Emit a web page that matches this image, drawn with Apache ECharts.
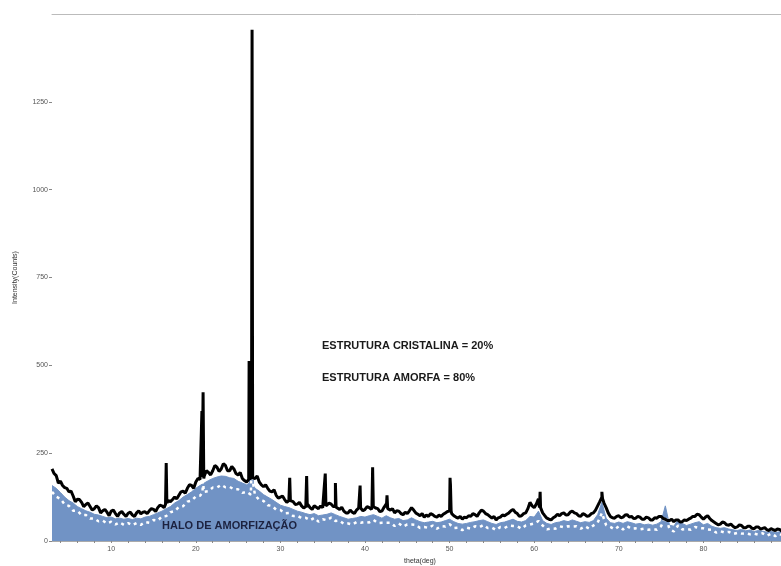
<!DOCTYPE html>
<html>
<head>
<meta charset="utf-8">
<script src="https://cdn.jsdelivr.net/npm/echarts@6/dist/echarts.min.js"></script>
<style>
html,body{margin:0;padding:0;background:#fff;}
#chart{width:781px;height:566px;}
</style>
</head>
<body>
<div id="chart"></div>
<script>
// 2theta sampling of the profiles (degrees)
const thetaStart = 3;
const blackStep = 0.25;
const lowerStep = 0.5;

// Measured pattern (black), counts, 3.00 .. 90.00 every 0.25 deg
const blackBase = [
  205,192,186,165,170,158,152,150,140,142,128,112,119,118,110,98,104,108,98,88,
  92,100,95,80,86,90,82,72,85,88,78,70,80,84,76,70,79,82,74,70,
  80,86,77,82,83,78,86,92,90,84,95,102,100,95,106,115,112,118,125,120,
  130,140,142,136,150,160,158,150,168,178,175,182,185,200,195,188,200,215,210,198,
  205,220,215,200,200,212,205,192,188,195,178,172,168,175,180,185,178,185,168,160,
  155,160,150,142,140,146,130,122,125,128,118,110,115,120,112,104,105,110,100,94,
  98,104,95,90,100,96,92,100,95,98,100,108,105,98,98,92,90,96,85,80,
  80,88,82,78,88,94,95,86,90,98,95,90,100,94,92,84,85,96,105,94,
  88,92,80,86,85,78,75,82,78,86,95,88,80,76,72,78,68,74,70,78,
  75,70,68,74,70,76,80,84,85,78,72,68,65,70,62,68,66,72,70,78,
  75,70,80,88,85,78,75,70,65,70,60,66,68,74,72,76,80,86,90,82,
  78,70,72,78,80,92,110,100,95,105,120,95,80,72,65,62,60,66,70,76,
  72,78,80,74,75,82,85,80,78,72,70,78,75,70,72,78,80,88,100,112,
  125,108,95,80,70,66,65,70,72,66,68,74,75,68,70,64,65,70,68,62,
  62,68,66,60,60,66,65,70,70,64,62,58,58,62,55,60,60,54,55,60,
  58,62,65,70,70,76,75,68,62,68,72,64,58,54,50,46,48,54,52,46,
  45,48,42,38,40,46,44,38,38,42,42,36,35,40,40,34,36,38,32,30,
  35,32,30,34,33,28,30,27,28
];
// Sharp crystalline reflections of the black pattern [2theta, counts]
const blackPeaks = [
  [16.42,105],[16.5,222],[16.58,108],
  [20.65,170],[20.72,370],[20.8,180],[20.86,423],[20.94,178],
  [26.22,172],[26.3,512],[26.38,176],
  [26.58,182],[26.65,1455],[26.72,180],
  [31.02,118],[31.1,180],[31.18,115],
  [33.02,98],[33.1,185],[33.18,96],
  [35.22,98],[35.3,192],[35.38,100],
  [36.42,100],[36.5,165],[36.58,96],
  [39.35,92],[39.42,158],[39.48,94],
  [40.82,96],[40.9,210],[40.98,98],
  [42.52,95],[42.6,130],[42.68,92],
  [49.95,82],[50.05,180],[50.1,160],[50.18,85],
  [60.62,95],[60.7,140],[60.78,90],
  [67.92,110],[68.0,140],[68.08,120]
];

// Amorphous halo (blue area), counts, 3.0 .. 90.0 every 0.5 deg
const blueBase = [
  158,150,138,125,115,108,98,92,86,82,
  76,74,70,66,68,63,65,62,64,61,
  65,63,68,70,75,80,85,92,98,108,
  115,125,132,140,150,158,165,172,178,182,
  185,184,180,178,170,165,160,158,150,142,
  132,125,118,110,102,98,95,90,85,82,
  78,75,78,72,74,76,80,75,70,66,
  62,64,66,70,68,72,75,70,65,72,
  66,62,64,58,60,66,60,55,52,54,
  56,52,54,58,62,55,50,48,50,53,
  55,58,60,55,50,47,52,54,58,62,
  56,54,58,70,68,85,58,50,47,52,
  54,58,55,60,56,52,55,53,58,75,
  110,65,52,50,54,50,55,52,48,50,
  46,48,45,48,55,100,45,42,60,50,
  44,48,52,55,46,50,42,38,36,38,
  34,32,30,33,29,31,27,30,28,25,
  27,24,26,23,22
];
const bluePeaks = [
  [26.35,165],[26.45,330],[26.72,330],[26.8,160]
];

// Lower noisy trace (white), counts, 3.0 .. 90.0 every 0.5 deg
const whiteBase = [
  140,126,120,104,100,86,86,74,74,64,
  64,56,58,50,55,47,53,46,51,45,
  51,46,54,52,60,58,70,71,82,85,
  97,99,112,115,127,129,142,142,152,152,
  160,153,154,147,147,137,140,132,130,117,
  114,102,100,89,88,79,80,71,72,65,
  66,59,66,55,62,59,67,57,58,49,
  50,47,54,52,54,53,60,51,52,52,
  52,43,50,41,47,47,46,37,40,37,
  44,35,42,41,48,37,38,31,38,35,
  42,39,46,37,38,31,40,37,44,43,
  42,35,44,47,50,57,44,33,36,35,
  42,39,42,41,42,35,42,35,44,52,
  80,45,40,33,42,33,42,35,36,33,
  35,32,34,32,42,70,34,27,44,33,
  34,32,40,37,36,33,32,24,28,24,
  26,20,23,21,22,19,21,18,22,15,
  21,14,20,14,17
];
const whitePeaks = [
  [20.8,138],[20.86,230],[20.92,140],
  [26.55,170],[26.62,330],[26.66,1060],[26.72,330],[26.8,160]
];

// Axis ticks / labels
const xTickValues = [4,6,8,10,12,14,16,18,20,22,24,26,28,30,32,34,36,38,40,42,44,46,48,50,52,54,56,58,60,62,64,66,68,70,72,74,76,78,80,82,84,86,88];
const xLabelValues = [10,20,30,40,50,60,70,80];
const yLabelValues = [0,250,500,750,1000,1250];

const annotations = ['ESTRUTURA CRISTALINA = 20%', 'ESTRUTURA AMORFA = 80%'];
const haloText = 'HALO DE AMORFIZAÇÃO';

function build(base, step, peaks) {
  const pts = base.map((v, i) => [thetaStart + i * step, v]);
  return pts.concat(peaks).sort((a, b) => a[0] - b[0]);
}

const chart = echarts.init(document.getElementById('chart'), null, {renderer: 'canvas'});
const font = 'Liberation Sans';
chart.setOption({
  animation: false,
  backgroundColor: '#ffffff',
  grid: {left: 52, right: -7, top: 14, bottom: 25, outerBoundsMode: 'none', containLabel: false},
  xAxis: [{
    type: 'value', min: 3, max: 90, position: 'bottom',
    name: 'theta(deg)', nameLocation: 'middle', nameGap: 14,
    nameTextStyle: {fontFamily: font, fontSize: 7, color: '#333'},
    axisLine: {show: true, lineStyle: {color: '#aaa', width: 1}},
    axisTick: {show: true, length: 2, customValues: xTickValues, lineStyle: {color: '#888'}},
    axisLabel: {customValues: xLabelValues, fontFamily: font, fontSize: 7, color: '#555', margin: 5,
                formatter: v => String(v)},
    splitLine: {show: false}
  }, {
    type: 'value', min: 3, max: 90, position: 'top',
    axisLine: {show: true, lineStyle: {color: '#bbb', width: 1}},
    axisTick: {show: false}, axisLabel: {show: false}, splitLine: {show: false}
  }],
  yAxis: {
    type: 'value', min: 0, max: 1500,
    name: 'Intensity(Counts)', nameLocation: 'middle', nameGap: 33,
    nameTextStyle: {fontFamily: font, fontSize: 7, color: '#333'},
    axisLine: {show: false},
    axisTick: {show: true, length: 3, customValues: yLabelValues, lineStyle: {color: '#888'}},
    axisLabel: {customValues: yLabelValues, fontFamily: font, fontSize: 7, color: '#555', margin: 4,
                formatter: v => String(v)},
    splitLine: {show: false}
  },
  series: [{
    type: 'line', name: 'halo', data: build(blueBase, lowerStep, bluePeaks),
    showSymbol: false, symbol: 'none', sampling: null, z: 1,
    lineStyle: {width: 1, color: '#7193c5'},
    areaStyle: {color: '#7193c5', opacity: 1}
  }, {
    type: 'line', name: 'white', data: build(whiteBase, lowerStep, whitePeaks),
    showSymbol: false, symbol: 'none', z: 2,
    lineStyle: {width: 2.5, color: '#ffffff', type: [3, 4]}
  }, {
    type: 'line', name: 'pattern', data: build(blackBase, blackStep, blackPeaks),
    showSymbol: false, symbol: 'none', z: 3,
    lineStyle: {width: 3, color: '#000000'}
  }],
  graphic: [
    {type: 'text', left: 322, top: 340, z: 10,
     style: {text: annotations[0], font: 'bold 11px "Liberation Sans"', fill: '#1a1a1a'}},
    {type: 'text', left: 322, top: 372, z: 10,
     style: {text: annotations[1], font: 'bold 11px "Liberation Sans"', fill: '#1a1a1a'}},
    {type: 'text', left: 162, top: 520, z: 10,
     style: {text: haloText, font: 'bold 11px "Liberation Sans"', fill: '#1c2240'}}
  ]
});
</script>
</body>
</html>
